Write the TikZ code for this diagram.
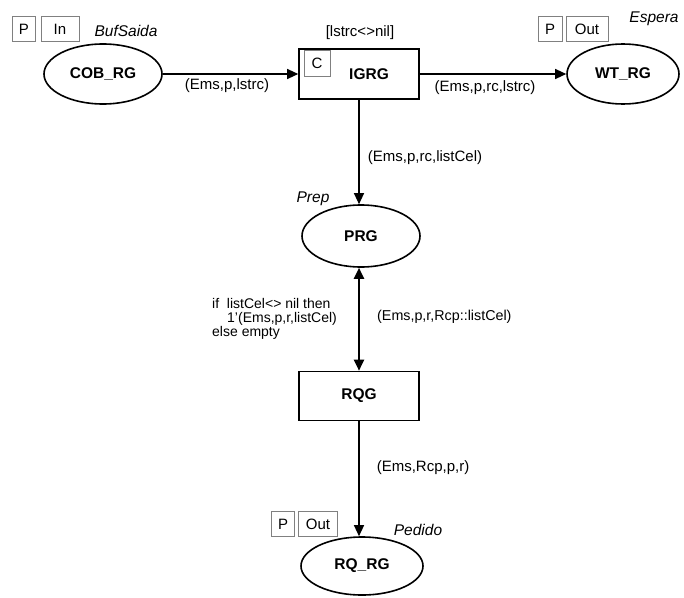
\documentclass[tikz,border=0pt]{standalone}
\usepackage{fontspec}
\setmainfont{Liberation Sans}
\usepackage{tikz}
\usetikzlibrary{arrows.meta,positioning,shapes.geometric}
\definecolor{tagc}{HTML}{808080}
\tikzset{
  place/.style={ellipse,draw,line width=1.6pt,minimum width=118pt,minimum height=60pt,inner sep=0pt,font=\fontsize{15.5}{18}\selectfont\bfseries},
  trans/.style={rectangle,draw,line width=1.6pt,minimum width=120pt,minimum height=50pt,inner sep=0pt,font=\fontsize{15.5}{18}\selectfont\bfseries},
  arc/.style={-{Triangle[length=11pt,width=10pt]},line width=1.2pt},
  lbl/.style={inner sep=0pt,font=\fontsize{15}{17}\selectfont},
  nm/.style={inner sep=0pt,font=\fontsize{15.5}{18}\selectfont\itshape},
  port/.style={draw=tagc,line width=0.6pt,minimum height=25pt,inner sep=0pt,font=\fontsize{15}{17}\selectfont}
}
\begin{document}
\begin{tikzpicture}[x=1pt,y=-1pt]
\useasboundingbox[fill=white] (0,0) rectangle (684,597);
% places and transitions
\node[place] (cob) at (103,74) {COB\_RG};
\node[trans] (igrg) at (359,74) {\hspace*{20pt}IGRG};
\node[place,minimum width=112pt] (wt) at (623,74) {WT\_RG};
\node[place,minimum height=62pt] (prg) at (361,236) {PRG};
\node[trans,minimum height=49pt] (rqg) at (359,396) {RQG};
\node[place,minimum width=122pt,minimum height=58pt] (rqrg) at (362,566) {RQ\_RG};
% port tags and names
\node[port,minimum width=23pt] (pcob) at (24,29) {P};
\node[port,minimum width=38pt] (incob) at (60,29) {In};
\node[nm] (bufsaida) at (126,31) {BufSaida};
\node[port,minimum width=24pt] (pwt) at (550,29) {P};
\node[port,minimum width=42pt] (outwt) at (587,29) {Out};
\node[nm] (espera) at (654,19) {Espera};
\node[port,minimum width=26pt,minimum height=26pt] (cig) at (317,63) {C};
\node[lbl] (guard) at (360,33) {[lstrc<>nil]};
\node[nm] (prep) at (313,199) {Prep};
\node[port,minimum width=23pt] (prq) at (283,524) {P};
\node[port,minimum width=39pt] (outrq) at (318,524) {Out};
\node[nm] (pedido) at (418,530) {Pedido};
% arcs
\draw[arc] (cob) -- (igrg);
\draw[arc] (igrg) -- (wt);
\draw[arc] (igrg.south) -- (prg.north -| igrg.south);
\draw[{Triangle[length=11pt,width=10pt]}-{Triangle[length=11pt,width=10pt]},line width=2.2pt] (prg.south -| rqg.north) -- (rqg.north);
\draw[arc] (rqg.south) -- (rqrg.north -| rqg.south);
% arc inscriptions
\node[lbl] (e1) at (227,86) {(Ems,p,lstrc)};
\node[lbl] (e2) at (485,88) {(Ems,p,rc,lstrc)};
\node[lbl] (e3) at (425,158) {(Ems,p,rc,listCel)};
\node[lbl,align=left,anchor=north west,font=\fontsize{14}{14}\selectfont] (e4) at (212,298) {if\ \ listCel<> nil then\\\hspace*{15pt}1'(Ems,p,r,listCel)\\else empty};
\node[lbl,anchor=west,font=\fontsize{14.3}{17}\selectfont] (e5) at (377,317) {(Ems,p,r,Rcp::listCel)};
\node[lbl] (e6) at (423,468) {(Ems,Rcp,p,r)};
\end{tikzpicture}
\end{document}
